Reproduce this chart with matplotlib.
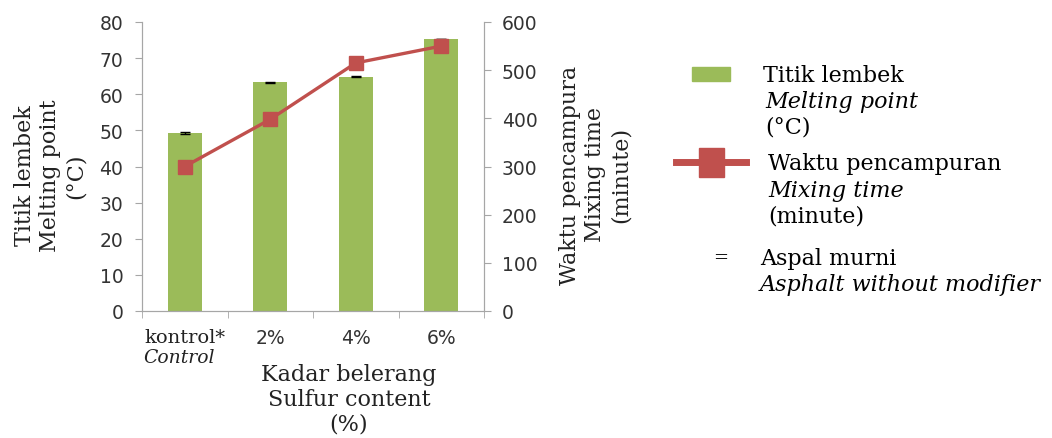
import numpy as np
import matplotlib.pyplot as plt
from matplotlib.patches import Rectangle
from matplotlib.lines import Line2D

# data
categories = ["kontrol*", "2%", "4%", "6%"]
melting_point = [49.3, 63.3, 64.8, 75.2]
melting_err = [0.35, 0.15, 0.15, 0.0]
mixing_time = [300, 398, 515, 550]

green = "#9BBB59"
red = "#C0504D"
grey = "#A6A6A6"
serif = "DejaVu Serif"
fs = 16

W, H = 1052, 439
fig = plt.figure(figsize=(W / 100, H / 100), dpi=100)
ax = fig.add_axes([142 / W, 1 - 312 / H, (484 - 142) / W, (312 - 23) / H])
ax2 = ax.twinx()

x = np.arange(len(categories))
ax.bar(x, melting_point, width=0.4, color=green, zorder=2)
ax.errorbar(x, melting_point, yerr=melting_err, fmt="none", ecolor="black",
            elinewidth=1, capsize=3.6, capthick=1, zorder=3)
ax2.plot(x, mixing_time, color=red, lw=2.4, marker="s", ms=10.5, zorder=4)

ax.set_xlim(-0.5, 3.5)
ax.set_ylim(0, 80)
ax.set_yticks(range(0, 81, 10))
ax2.set_ylim(0, 600)
ax2.set_yticks(range(0, 601, 100))

ax.set_xticks(x)
ax.set_xticklabels(categories)
ax.set_xticks(np.arange(-0.5, 4, 1), minor=True)
ax.tick_params(axis="x", which="major", length=0, pad=12, labelsize=13.5, labelcolor="#333333")
ax.tick_params(axis="x", which="minor", length=5, color=grey, direction="out")
ax.tick_params(axis="y", length=5, color=grey, pad=8.5, labelsize=13.5, labelcolor="#333333")
ax2.tick_params(axis="y", length=5, color=grey, pad=8, labelsize=13.5, labelcolor="#333333")
lbl0 = ax.get_xticklabels()[0]
lbl0.set_fontfamily(serif)
lbl0.set_fontsize(14)
lbl0.set_color("#222222")

for a in (ax, ax2):
    a.spines["top"].set_visible(False)
    for s in ("left", "right", "bottom"):
        a.spines[s].set_color(grey)
fig.text(179 / W, 1 - 358 / H, "Control", ha="center", va="center", style="italic",
         family=serif, fontsize=13.5, color="#222222")

# axis titles
fig.text(349 / W, 1 - 400 / H, "Kadar belerang\nSulfur content\n(%)", family=serif,
         fontsize=fs, ha="center", va="center", linespacing=1.15, color="#222222")
fig.text(50 / W, 1 - 176 / H, "Titik lembek\nMelting point\n(°C)", family=serif,
         fontsize=fs, ha="center", va="center", rotation=90, linespacing=1.2, color="#222222")
fig.text(595 / W, 1 - 175 / H, "Waktu pencampura\nMixing time\n(minute)", family=serif,
         fontsize=fs, ha="center", va="center", rotation=90, linespacing=1.2, color="#222222")

# legend drawn by hand
fig.patches.append(Rectangle((692 / W, 1 - 82 / H), 38 / W, 14 / H, color=green,
                             transform=fig.transFigure))
fig.text(763 / W, 1 - 76 / H, "Titik lembek", family=serif, fontsize=fs, va="center")
fig.text(765 / W, 1 - 102 / H, "Melting point", family=serif, fontsize=fs, va="center",
         style="italic")
fig.text(765 / W, 1 - 128 / H, "(°C)", family=serif, fontsize=fs, va="center")

fig.lines.append(Line2D([676 / W, 746 / W], [1 - 163 / H, 1 - 163 / H], color=red, lw=5,
                        transform=fig.transFigure))
fig.patches.append(Rectangle((699 / W, 1 - 178 / H), 25 / W, 29 / H, color=red,
                             transform=fig.transFigure))
fig.text(768 / W, 1 - 164 / H, "Waktu pencampuran", family=serif, fontsize=fs, va="center")
fig.text(768 / W, 1 - 191 / H, "Mixing time", family=serif, fontsize=fs, va="center",
         style="italic")
fig.text(768 / W, 1 - 217 / H, "(minute)", family=serif, fontsize=fs, va="center")

fig.text(721 / W, 1 - 258 / H, "=", family=serif, fontsize=13, va="center", ha="center")
fig.text(760 / W, 1 - 259 / H, "Aspal murni", family=serif, fontsize=fs, va="center")
fig.text(760 / W, 1 - 285 / H, "Asphalt without modifier", family=serif, fontsize=fs,
         va="center", style="italic")

fig.savefig("out.png", dpi=100)
